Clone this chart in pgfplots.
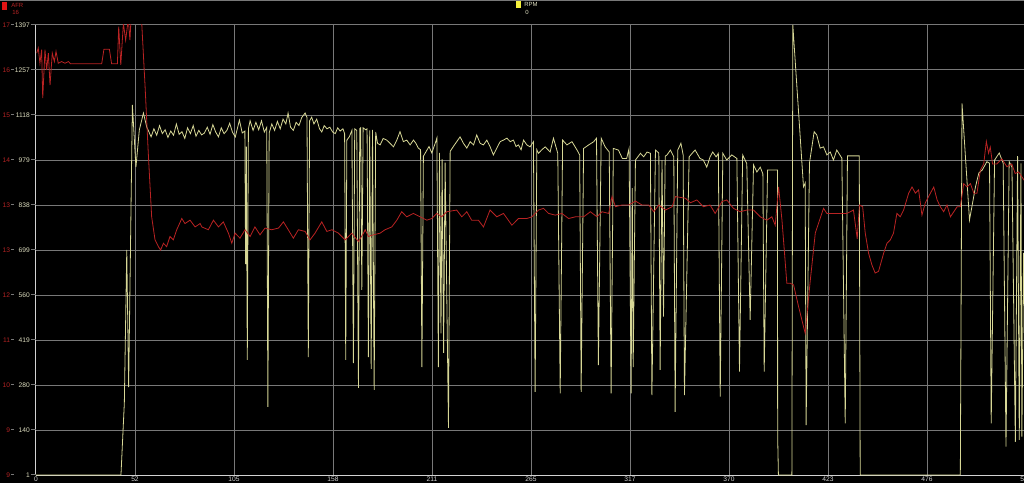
\documentclass[border=0pt]{standalone}
\usepackage{pgfplots}
\pgfplotsset{compat=1.18}
\usepackage{fontspec}
\setmainfont{Liberation Sans}
\definecolor{afr}{RGB}{185,35,35}
\definecolor{afrtext}{RGB}{180,35,35}
\definecolor{rpm}{RGB}{215,215,150}
\definecolor{rpmtext}{RGB}{220,220,190}
\definecolor{gridc}{RGB}{120,120,120}
\definecolor{axc}{RGB}{210,210,210}
\definecolor{afrbox}{RGB}{225,20,20}
\definecolor{rpmbox}{RGB}{245,240,60}
\newcommand{\yl}[2]{\makebox[7.5pt][r]{\textcolor{afrtext}{#1}}\hspace{0.6pt}\textcolor{gridc}{\rule[1.7pt]{2.6pt}{0.5pt}}\hspace{0.6pt}\makebox[11pt][r]{\textcolor{rpmtext}{#2}}\hspace{0.6pt}\textcolor{gridc}{\rule[1.7pt]{3.9pt}{0.5pt}}}
\begin{document}
\begin{tikzpicture}
\fill[black] (-27pt,-6pt) rectangle (741pt,356.25pt);
\draw[gridc, line width=0.75pt] (-27pt,355.9pt) -- (741pt,355.9pt);
\begin{axis}[
  scale only axis, width=742.5pt, height=337.5pt,
  xmin=0, xmax=529, ymin=1, ymax=1397,
  axis lines*=left,
  axis line style={axc, line width=0.75pt},
  xtick={0,52.9,105.8,158.7,211.6,264.5,317.4,370.3,423.2,476.1,529},
  xticklabels={0,52,105,158,211,265,317,370,423,476,529},
  ytick={1,140.6,280.2,419.8,559.4,699,838.6,978.2,1117.8,1257.4,1397},
  yticklabels={\yl{9}{1},\yl{9}{140},\yl{10}{280},\yl{11}{419},\yl{12}{560},\yl{13}{699},\yl{13}{838},\yl{14}{979},\yl{15}{1118},\yl{16}{1257},\yl{17}{1397}},
  major tick length=0pt,
  xmajorgrids, ymajorgrids,
  grid style={gridc, line width=0.75pt},
  xticklabel style={font=\fontsize{5}{6}\selectfont, text=axc, inner sep=0pt, anchor=north, yshift=-1pt},
  yticklabel style={font=\fontsize{5}{6}\selectfont, inner sep=0pt, anchor=east},
]
\addplot[rpm, line width=0.6pt] coordinates {
(0,1)(45.4,1)(47.2,224)(48.5,699)(49.5,274)(51.5,1149)(53.4,956)(55.2,1071)(57.4,1124)(59.2,1080)
(60,1070)(61.5,1050)(63,1075)(64.5,1055)(66,1085)(67.5,1060)(69,1072)(70.5,1048)(72,1068)(73.5,1055)(75,1090)(76.5,1058)(78,1066)(79.5,1045)(81,1078)(82.5,1060)(84,1085)(85.5,1052)(87,1070)(88.5,1056)(90,1062)(91.5,1080)(93,1058)(94.5,1088)(96,1065)(97.5,1050)(99,1078)(100.5,1060)(102,1070)(103.5,1092)(105,1064)(106.5,1050)(108.7,1102)(110.2,1062)(111.6,1068)(112.0,655)(112.4,1020)(112.9,358)(113.5,1075)(114.4,1100)(116,1070)(117.5,1095)(119,1072)(120.5,1100)(122,1065)(123.3,1080)(123.9,212)(124.6,1062)(126,1090)(127.5,1070)(129,1098)(130.5,1075)(132,1105)(133.5,1090)(134.7,1124)(136,1080)(137.5,1070)(139,1095)(140.5,1085)(142,1110)(143.8,1124)(144.8,1110)(145.5,367)(146.2,1100)(147.3,1111)(148.5,1090)(150,1105)(151.5,1075)(152.7,1065)(154,1085)(155.5,1075)(157,1080)(158.5,1065)(159.9,1060)(161.2,1078)(162.5,1068)(164,1075)(164.9,1060)(165.5,358)(166.1,1040)(167.4,1050)(168.8,1070)(169.6,348)(170.3,1075)(171.4,1070)(172.3,271)(173.0,1075)
(173.5,1078)(174.1,575)(174.8,1078)(176.2,1072)(176.9,1075)(177.6,367)(178.3,1070)(179.1,330)(179.8,1072)(180.7,265)(181.5,1065)(182.5,1030)(183.9,1025)(185.5,1045)(187.4,1040)(189.2,1030)(191.0,1019)(192.8,1040)(194.5,1066)(196.3,1035)(198.1,1040)(199.9,1025)(201.7,1040)(203.0,1030)(204.3,1015)(205.5,1010)(206.2,336)(207.0,990)(208.5,1005)(210.0,1020)(211.5,1000)(213.0,1025)(214.2,1046)(215.0,336)(215.6,1000)(216.4,440)(217.0,980)(217.8,380)(218.6,970)(220.4,147)(221.3,1005)(223.0,1020)(224.8,1035)(226.6,1050)(228.4,1030)(230.2,1015)(232.0,1035)(233.8,1025)(235.5,1056)(237.3,1030)(239.1,1025)(240.9,1040)(242.6,1020)(244.4,994)(246.2,1015)(248.0,1035)(249.8,1040)(251.6,1046)(253.4,1035)(255.1,1040)(256.5,1020)(257.8,1025)(259.2,1010)(260.5,1040)(262.3,1025)(264.0,1019)
(265.8,1035)(266.7,259)(267.6,1010)(268.5,999)(270.3,1010)(272.1,1019)(274.7,1003)(276.5,1046)(278.8,999)(280.1,254)(281.4,1040)(283.7,1025)(286.4,1035)(289.1,1009)(290.5,994)(291.3,259)(292.6,1014)(295.3,1025)(298.0,1035)(299.5,1046)(300.5,342)(302.0,1046)(304.1,1019)(306.3,1003)(307.3,254)(308.5,1014)(311.2,1009)(313.3,983)(315.6,983)(316.9,1014)(318.0,254)(318.6,891)(319.1,336)(320.3,978)(323.0,999)(324.7,988)(326.5,1003)(328.3,999)(329.1,249)(331.0,1009)(332.8,1000)(333.5,327)(334.5,978)(335.3,492)(336.2,990)(337.2,994)(339.0,1009)(340.8,988)(341.5,197)(342.9,1009)(344.6,1030)(345.8,994)(346.5,249)(349.0,988)(351.2,1003)
(352.2,1009)(354.8,983)(356.6,978)(358.4,956)(360.2,988)(361.6,1003)(363.4,988)(364.6,999)(365.6,244)(367.0,999)(369.1,978)(371.8,994)(374.5,983)(375.9,322)(377.6,994)(379.8,967)(381.6,482)(383.4,963)(385.2,941)(387.0,956)(388.4,935)(389.1,322)(390.9,947)(396.2,947)(396.3,120)(396.7,1)(403.9,1)(404.4,1397)(410.1,895)(411.0,907)(411.5,156)(413.3,969)(415.8,1066)(417.2,1056)(419.0,1015)(420.8,1019)(422.6,994)(424.4,1003)(426.1,978)(427.9,1009)(430.6,984)(432.4,161)(433.6,991)(439.9,991)(440.4,1)
(493.9,1)(494.8,1154)(498.8,792)(502.0,895)(503.8,938)(505.6,947)(508.1,973)(509.5,968)(510.4,161)(512.2,978)(514.7,1000)(516.8,968)(518.3,89)(520.0,973)(521.5,956)(523.3,104)(524.5,990)(525.4,110)(526.3,968)(526.8,120)(527.7,690)(528.5,400)
};
\end{axis}
\begin{axis}[
  scale only axis, width=742.5pt, height=337.5pt,
  xmin=0, xmax=529, ymin=9, ymax=17,
  axis lines=none, ticks=none,
]
\addplot[afr, line width=0.6pt] coordinates {
(0.4,16.50)(1.2,16.59)(2.1,16.32)(3.0,16.56)(3.6,15.70)(4.8,16.56)(5.7,16.20)(6.6,16.50)(7.5,15.93)(8.7,16.50)(9.8,16.35)(10.7,16.53)(11.9,16.32)(13.7,16.35)(15.5,16.32)(17.3,16.35)(18.5,16.31)(35.1,16.31)(36.3,16.57)(39.2,16.57)(40.4,16.31)(43.5,16.31)(44.2,16.97)(45.3,16.29)(46.7,17.03)(47.9,16.73)(49.3,17.1)(50.2,16.73)(51.5,17.6)(55.5,17.6)(56.5,17.03)(58.3,15.90)(60.0,14.72)(61.8,13.59)(63.6,13.18)(65.4,13.06)(66.6,13.00)(68.1,13.12)(69.8,13.06)(71.6,13.24)(73.4,13.18)(75.2,13.36)(77.9,13.56)(79.6,13.47)(82.3,13.53)(85.0,13.41)(87.7,13.47)(88.6,13.41)(92.1,13.36)(94.8,13.53)(97.5,13.41)(100.1,13.50)(102.8,13.30)(104.6,13.12)(106.4,13.30)(109.0,13.21)(111.7,13.36)(114.4,13.24)(117.0,13.41)(119.7,13.27)(122.4,13.39)(126.0,13.36)(129.6,13.39)(132.2,13.50)(134.8,13.36)(137.5,13.21)(140.2,13.36)(143.8,13.33)(146.4,13.18)(149.1,13.30)(152.7,13.50)(155.4,13.33)(158.1,13.36)(161.6,13.30)(165.2,13.18)(168.7,13.30)(172.3,13.15)(175.0,13.30)(175.9,13.36)(177.6,13.24)(180.3,13.27)(183.9,13.30)(186.5,13.36)(190.1,13.41)(192.8,13.53)(195.4,13.68)(198.1,13.59)(201.7,13.65)(205.2,13.59)(208.8,13.53)(211.5,13.56)(214.2,13.65)(216.8,13.59)(219.5,13.68)(224.8,13.71)(227.5,13.59)(230.2,13.68)(232.8,13.53)(236.4,13.53)(239.1,13.41)(242.6,13.71)(246.2,13.59)(249.8,13.65)(254.3,13.44)(257.8,13.56)(262.3,13.56)(265.0,13.59)(268.5,13.71)(271.2,13.74)(273.9,13.65)(277.5,13.62)(281.0,13.65)(284.6,13.56)(288.2,13.59)(292.6,13.59)(296.2,13.68)(299.8,13.59)(302.4,13.68)(306.0,13.65)(307.8,13.95)(309.6,13.77)(313.1,13.80)(316.7,13.80)(320.3,13.87)(323.8,13.80)(327.4,13.80)(330.1,13.68)(332.8,13.80)(336.3,13.71)(339.9,13.77)(341.7,13.95)(347.0,13.92)(349.7,13.84)(353.1,13.89)(356.6,13.77)(360.2,13.80)(362.9,13.65)(366.5,13.86)(369.1,13.89)(372.7,13.74)(376.3,13.68)(379.8,13.71)(383.4,13.71)(387.0,13.59)(390.5,13.53)(393.2,13.59)(395.0,13.44)(396.8,14.12)(398.6,13.53)(401.2,12.41)(403.0,12.41)(404.8,12.38)(407.5,11.99)(411.0,11.52)(413.7,12.45)(416.4,13.30)(419.0,13.56)(420.8,13.74)(422.6,13.65)(427.9,13.65)(433.3,13.65)(436.8,13.71)(438.8,13.20)(440.0,13.80)(441.7,13.77)(443.1,13.30)(444.9,12.94)(446.7,12.73)(448.4,12.59)(450.2,12.62)(452.9,12.94)(454.7,13.12)(456.5,13.18)(458.2,13.30)(460.0,13.65)(461.8,13.59)(463.6,13.71)(466.3,14.01)(468.1,14.12)(469.9,14.01)(471.6,14.07)(473.4,13.62)(475.2,13.84)(477.9,14.01)(479.7,14.12)(481.5,13.89)(483.2,13.77)(485.0,13.68)(486.8,13.80)(488.6,13.59)(490.4,13.68)(492.2,13.77)(493.9,13.77)(495.7,14.18)(497.5,14.12)(499.3,14.18)(501.1,14.01)(502.8,14.01)(504.6,14.42)(506.4,14.53)(507.8,14.93)(509.0,14.72)(509.9,14.83)(511.1,14.53)(513.4,14.53)(516.1,14.62)(518.8,14.48)(521.4,14.53)(523.2,14.36)(525.0,14.39)(528.0,14.24)
};
\end{axis}
\fill[afrbox] (-25.5pt,348.75pt) rectangle (-21.75pt,354.75pt);
\node[anchor=west, inner sep=0pt, font=\fontsize{4.5}{5}\selectfont, text=afrtext] at (-18.75pt,352.5pt) {AFR};
\node[anchor=west, inner sep=0pt, font=\fontsize{4.5}{5}\selectfont, text=afrtext] at (-18pt,346.9pt) {16};
\fill[rpmbox] (360pt,350.25pt) rectangle (363.75pt,355.3pt);
\node[anchor=west, inner sep=0pt, font=\fontsize{4.5}{5}\selectfont, text=rpmtext] at (366pt,352.9pt) {RPM};
\node[anchor=west, inner sep=0pt, font=\fontsize{4.5}{5}\selectfont, text=rpmtext] at (366.75pt,346.9pt) {0};
\pgfresetboundingbox
\useasboundingbox (-27pt,-6pt) rectangle (741pt,356.25pt);
\end{tikzpicture}
\end{document}
